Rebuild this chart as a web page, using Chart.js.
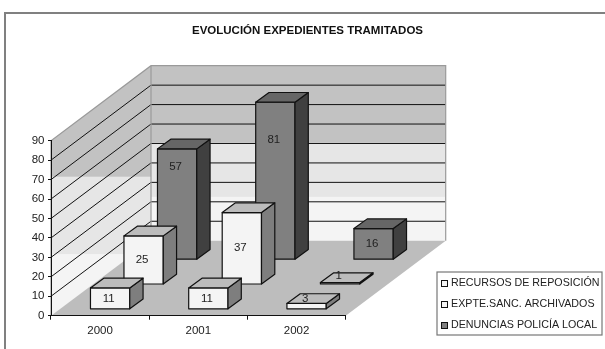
<!DOCTYPE html>
<html lang="es">
<head>
<meta charset="UTF-8">
<title>Evolución expedientes tramitados</title>
<script src="https://cdn.jsdelivr.net/npm/chart.js"></script>
<style>
  html, body { margin: 0; padding: 0; background: #fff; }
  canvas { display: block; }
</style>
</head>
<body>
<canvas id="chart" width="605" height="349"></canvas>
<script>
const years = ['2000', '2001', '2002'];
const recursos = [11, 11, 3];
const archivados = [25, 37, 1];
const denuncias = [57, 81, 16];
const seriesNames = ['RECURSOS DE REPOSICIÓN', 'EXPTE.SANC. ARCHIVADOS', 'DENUNCIAS POLICÍA LOCAL'];
const yTicksMax = 90;

// Excel's labels don't sit mid-bar on the tall ones, so lift them by hand
const labelLift = [[0, 0, 7], [0, 0, 7], [37, 41, 0]];

const FONT = '"Liberation Sans", Arial, sans-serif';
const TEXT = '#222';

// oblique projection of the 3D box
const wallDX = 100, wallDY = 75;
const slotDX = 33.5, slotDY = 24.8;
const gapDX = 10, gapDY = 6.4;
const barDX = 13.3, barDY = 9.7;

const faces = [
  { front: '#f4f4f4', top: '#bcbcbc', side: '#7e7e7e' },
  { front: '#f4f4f4', top: '#bcbcbc', side: '#7e7e7e' },
  { front: '#808080', top: '#666666', side: '#404040' }
];

function poly(ctx, pts, fill, stroke, lw) {
  ctx.beginPath();
  pts.forEach((p, i) => i ? ctx.lineTo(p[0], p[1]) : ctx.moveTo(p[0], p[1]));
  ctx.closePath();
  if (fill) { ctx.fillStyle = fill; ctx.fill(); }
  if (stroke) { ctx.strokeStyle = stroke; ctx.lineWidth = lw || 1; ctx.stroke(); }
}

const box3d = {
  id: 'box3d',
  afterLayout(chart) {
    // title is centred a bit right of the page middle
    chart.titleBlock.left = 0;
    chart.titleBlock.right = 615;
  },
  beforeDraw(chart) {
    const ctx = chart.ctx;
    ctx.save();
    ctx.strokeStyle = '#808080';
    ctx.lineWidth = 2;
    ctx.beginPath();
    ctx.moveTo(5, 349);
    ctx.lineTo(5, 13);
    ctx.lineTo(605, 13);
    ctx.stroke();
    ctx.restore();
  },
  beforeDatasetsDraw(chart) {
    const ctx = chart.ctx, y = chart.scales.y;
    const L = chart.chartArea.left, R = chart.chartArea.right;
    const B = y.getPixelForValue(0), T = y.getPixelForValue(yTicksMax);
    const bl = L + wallDX, br = R + wallDX, bb = B - wallDY, bt = T - wallDY;
    const bands = ['#c2c2c2', '#e6e6e6', '#f4f4f4'];

    // left wall, the bands run flat across the screen
    ctx.save();
    poly(ctx, [[L, B], [bl, bb], [bl, bt], [L, T]]);
    ctx.clip();
    const l1 = y.getPixelForValue(71.4), l2 = y.getPixelForValue(31.7);
    ctx.fillStyle = bands[0]; ctx.fillRect(L, bt, wallDX, l1 - bt);
    ctx.fillStyle = bands[1]; ctx.fillRect(L, l1, wallDX, l2 - l1);
    ctx.fillStyle = bands[2]; ctx.fillRect(L, l2, wallDX, B - l2);
    ctx.restore();

    // back wall
    const b1 = y.getPixelForValue(50.3) - wallDY, b2 = y.getPixelForValue(22.5) - wallDY;
    ctx.fillStyle = bands[0]; ctx.fillRect(bl, bt, br - bl, b1 - bt);
    ctx.fillStyle = bands[1]; ctx.fillRect(bl, b1, br - bl, b2 - b1);
    ctx.fillStyle = bands[2]; ctx.fillRect(bl, b2, br - bl, bb - b2);

    // gridlines
    ctx.strokeStyle = '#111';
    ctx.lineWidth = 1;
    y.ticks.forEach(t => {
      if (t.value === 0 || t.value === yTicksMax) return;
      const py = y.getPixelForValue(t.value);
      ctx.beginPath();
      ctx.moveTo(L, py);
      ctx.lineTo(bl, py - wallDY);
      ctx.lineTo(br, py - wallDY);
      ctx.stroke();
    });

    // wall edges and floor
    ctx.strokeStyle = '#9a9a9a';
    ctx.lineWidth = 1.2;
    ctx.beginPath();
    ctx.moveTo(L, B);
    ctx.lineTo(L, T);
    ctx.lineTo(bl, bt);
    ctx.lineTo(br, bt);
    ctx.lineTo(br, bb);
    ctx.moveTo(bl, bt);
    ctx.lineTo(bl, bb);
    ctx.stroke();
    poly(ctx, [[L, B], [R, B], [br, bb], [bl, bb]], '#bdbdbd');
  },
  beforeDatasetDraw(chart, args) {
    const ctx = chart.ctx, i = args.index, c = faces[i];
    const sx = gapDX + slotDX * i, sy = gapDY + slotDY * i;
    ctx.save();
    ctx.lineJoin = 'round';
    args.meta.data.forEach((bar, j) => {
      const x0 = bar.x - bar.width / 2 + sx, x1 = bar.x + bar.width / 2 + sx;
      const top = bar.y - sy, base = bar.base - sy;
      poly(ctx, [[x0, base], [x1, base], [x1, top], [x0, top]], c.front, '#111', 1.2);
      poly(ctx, [[x1, base], [x1 + barDX, base - barDY], [x1 + barDX, top - barDY], [x1, top]], c.side, '#111', 1.2);
      poly(ctx, [[x0, top], [x1, top], [x1 + barDX, top - barDY], [x0 + barDX, top - barDY]], c.top, '#111', 1.2);
      ctx.fillStyle = TEXT;
      ctx.font = '11.5px ' + FONT;
      ctx.textAlign = 'center';
      ctx.textBaseline = 'middle';
      ctx.fillText(chart.data.datasets[i].data[j], (x0 + x1) / 2 - 1.5, (top + base) / 2 - labelLift[i][j]);
    });
    ctx.restore();
    return false;
  },
  afterDraw(chart) {
    const ctx = chart.ctx;
    const lx = 437, ly = 272, lw = 165, lh = 63;
    ctx.save();
    ctx.fillStyle = '#fff';
    ctx.fillRect(lx, ly, lw, lh);
    ctx.strokeStyle = '#777';
    ctx.lineWidth = 1.2;
    ctx.strokeRect(lx, ly, lw, lh);
    ctx.font = '10.7px ' + FONT;
    ctx.textBaseline = 'middle';
    ctx.textAlign = 'left';
    chart.data.datasets.forEach((ds, i) => {
      const cy = ly + 11.5 + i * 21;
      ctx.fillStyle = faces[i].front;
      ctx.fillRect(441.5, cy - 3, 6, 6);
      ctx.strokeStyle = '#111';
      ctx.lineWidth = 1;
      ctx.strokeRect(441.5, cy - 3, 6, 6);
      ctx.fillStyle = TEXT;
      ctx.fillText(ds.label, 451, cy);
    });
    ctx.restore();
  }
};

new Chart(document.getElementById('chart'), {
  type: 'bar',
  data: {
    labels: years,
    datasets: [
      { label: seriesNames[0], data: recursos, backgroundColor: faces[0].front },
      { label: seriesNames[1], data: archivados, backgroundColor: faces[1].front },
      { label: seriesNames[2], data: denuncias, backgroundColor: faces[2].front }
    ]
  },
  options: {
    responsive: false,
    animation: false,
    layout: { padding: { left: 21, right: 259.3, top: 0, bottom: 0 } },
    plugins: {
      legend: { display: false },
      tooltip: { enabled: false },
      title: {
        display: true,
        text: 'EVOLUCIÓN EXPEDIENTES TRAMITADOS',
        color: '#111',
        font: { family: FONT, size: 11.5, weight: 'bold', lineHeight: 1.2 },
        padding: { top: 24, bottom: 102.9 }
      }
    },
    datasets: { bar: { grouped: false, barPercentage: 0.4, categoryPercentage: 1 } },
    scales: {
      x: {
        afterFit: s => { s.height = 33.3; },
        border: { color: '#111', z: 1 },
        grid: { color: '#111', drawOnChartArea: false, tickLength: 4, z: 1 },
        ticks: { color: TEXT, font: { family: FONT, size: 11.5 }, padding: 4, maxRotation: 0 }
      },
      y: {
        min: 0,
        max: yTicksMax,
        afterFit: s => { s.width = 30; },
        border: { color: '#111', z: 1 },
        grid: { color: '#111', drawOnChartArea: false, tickLength: 3, z: 1 },
        ticks: { stepSize: 10, color: TEXT, font: { family: FONT, size: 11.5 }, padding: 3.5, autoSkip: false }
      }
    }
  },
  plugins: [box3d]
});
</script>
</body>
</html>
